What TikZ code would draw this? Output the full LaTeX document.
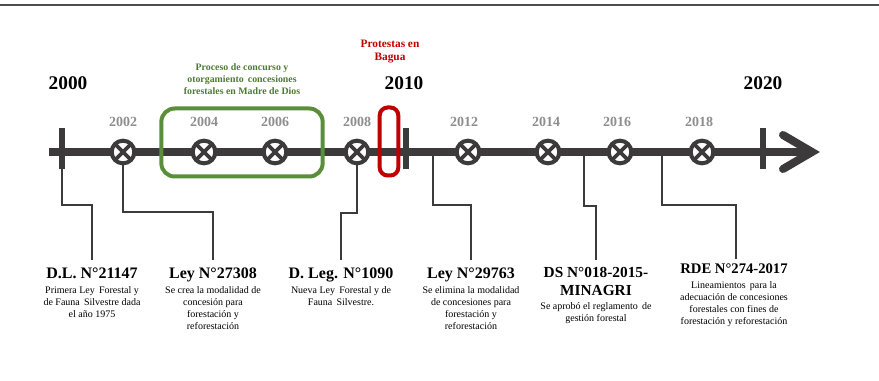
\documentclass[tikz,border=0pt]{standalone}
\usepackage{fontspec}
\setmainfont{Liberation Serif}
\definecolor{dk}{HTML}{3C3A3A}
\definecolor{yr}{HTML}{8E8E8E}
\definecolor{gr}{HTML}{5B8E3A}
\definecolor{grt}{HTML}{4E7A33}
\definecolor{rd}{HTML}{C00000}
\begin{document}
\begin{tikzpicture}[x=0.75pt,y=-0.75pt,
  bigyear/.style={font=\fontsize{14.5}{16}\selectfont\bfseries, inner sep=0pt},
  yearlbl/.style={font=\fontsize{10.5}{12}\selectfont\bfseries, text=yr, inner sep=0pt},
  evt/.style={circle, draw=dk, line width=3pt, fill=white, minimum size=17pt, inner sep=0pt, outer sep=0pt},
  cross/.style={draw=dk, line width=2.8pt},
  tickline/.style={draw=dk, line width=3.8pt},
  lawtitle/.style={font=\fontsize{12}{13.5}\selectfont\bfseries, align=center, inner sep=0pt, anchor=base},
  desc/.style={font=\fontsize{7.5}{9}\selectfont, align=center, inner sep=0pt, anchor=north},
  conn/.style={draw=dk, line width=2pt},
  grtitle/.style={font=\fontsize{7.4}{9}\selectfont\bfseries, text=grt, align=center, inner sep=0pt},
  rdtitle/.style={font=\fontsize{8.5}{9.8}\selectfont\bfseries, text=rd, align=center, inner sep=0pt}
]
\useasboundingbox (0,0) rectangle (879,381);
% top rule
\draw[draw=dk!90, line width=1.1pt] (0,5) -- (879,5);
% timeline
\coordinate (tlstart) at (49,152);
\coordinate (tlend) at (810,152);
\draw[draw=dk, line width=6pt] (tlstart) -- (tlend);
\draw[draw=dk, line width=6pt, line cap=round, line join=miter] (783,135) -- (812,152) -- (783,169);
% ticks
\coordinate (t0a) at (62,128); \coordinate (t0b) at (62,169);
\coordinate (t1a) at (406,128); \coordinate (t1b) at (406,169);
\coordinate (t2a) at (763,128); \coordinate (t2b) at (763,169);
\draw[tickline] (t0a) -- (t0b);
\draw[tickline] (t1a) -- (t1b);
\draw[tickline] (t2a) -- (t2b);
% green box and red box
\node[draw=gr, line width=3pt, rounded corners=10pt, minimum width=121pt, minimum height=51pt, inner sep=0pt] (grbox) at (242,142.5) {};
\node[draw=rd, line width=3pt, rounded corners=6pt, minimum width=14pt, minimum height=51pt, inner sep=0pt] (rdbox) at (389,141.5) {};
% event markers
\foreach \n/\x in {e02/123, e04/204, e06/275, e08/357, e12/468, e14/548, e16/620, e18/702}{
  \node[evt] (\n) at (\x,152) {};
  \draw[cross] (\n.north east) -- (\n.south west) (\n.north west) -- (\n.south east);
}
% year labels
\node[yearlbl] (y02) at (123,122) {2002};
\node[yearlbl] (y04) at (204,122) {2004};
\node[yearlbl] (y06) at (275,122) {2006};
\node[yearlbl] (y08) at (357,122) {2008};
\node[yearlbl] (y12) at (464,122) {2012};
\node[yearlbl] (y14) at (546,122) {2014};
\node[yearlbl] (y16) at (617,122) {2016};
\node[yearlbl] (y18) at (699,122) {2018};
\node[bigyear] (b00) at (68,83) {2000};
\node[bigyear] (b10) at (404,83) {2010};
\node[bigyear] (b20) at (763,83) {2020};
% headers
\node[grtitle] (grt) at (242,79.5) {Proceso de concurso y\\otorgamiento\, concesiones\\forestales en Madre de Dios};
\node[rdtitle] (rdt) at (390,51.5) {Protestas en\\Bagua};
% law titles and descriptions
\node[lawtitle] (l1) at (92,278) {D.L. N°21147};
\node[desc] (d1) at (92,286) {Primera Ley\, Forestal y\\de Fauna\, Silvestre dada\\el año 1975};
\node[lawtitle] (l2) at (213,278) {Ley N°27308};
\node[desc] (d2) at (213,286) {Se crea la modalidad de\\concesión para\\forestación y\\reforestación};
\node[lawtitle] (l3) at (341,278) {D. Leg. N°1090};
\node[desc] (d3) at (341,286) {Nueva Ley\, Forestal y de\\Fauna\, Silvestre.};
\node[lawtitle] (l4) at (471,278) {Ley N°29763};
\node[desc] (d4) at (471,286) {Se elimina la modalidad\\de concesiones para\\forestación y\\reforestación};
\node[lawtitle, font=\fontsize{11.5}{13.5}\selectfont\bfseries] (l5) at (596,295.5) {DS N°018-2015-\\MINAGRI};
\node[desc, anchor=base] (d5) at (596,321) {Se aprobó el reglamento\, de\\gestión forestal};
\node[lawtitle, font=\fontsize{11}{13}\selectfont\bfseries] (l6) at (734,274) {RDE N°274-2017};
\node[desc] (d6) at (734,281) {Lineamientos\, para la\\adecuación de concesiones\\forestales con fines de\\forestación y reforestación};
% connectors
\coordinate (c1a) at (62,205); \coordinate (c1b) at (92,205); \coordinate (c1e) at (92,260);
\draw[conn] (t0b) -- (c1a) -- (c1b) -- (c1e);
\coordinate (c2a) at (123,212); \coordinate (c2b) at (213,212); \coordinate (c2e) at (213,260);
\draw[conn] (e02.south) -- (c2a) -- (c2b) -- (c2e);
\coordinate (c3a) at (357,213); \coordinate (c3b) at (341,213); \coordinate (c3e) at (341,260);
\draw[conn] (e08.south) -- (c3a) -- (c3b) -- (c3e);
\coordinate (c4s) at (433,155); \coordinate (c4a) at (433,205); \coordinate (c4b) at (471,205); \coordinate (c4e) at (471,260);
\draw[conn] (c4s) -- (c4a) -- (c4b) -- (c4e);
\coordinate (c5s) at (584,155); \coordinate (c5a) at (584,206); \coordinate (c5b) at (596,206); \coordinate (c5e) at (596,260);
\draw[conn] (c5s) -- (c5a) -- (c5b) -- (c5e);
\coordinate (c6s) at (662,155); \coordinate (c6a) at (662,205); \coordinate (c6b) at (736,205); \coordinate (c6e) at (736,259);
\draw[conn] (c6s) -- (c6a) -- (c6b) -- (c6e);
\end{tikzpicture}
\end{document}
